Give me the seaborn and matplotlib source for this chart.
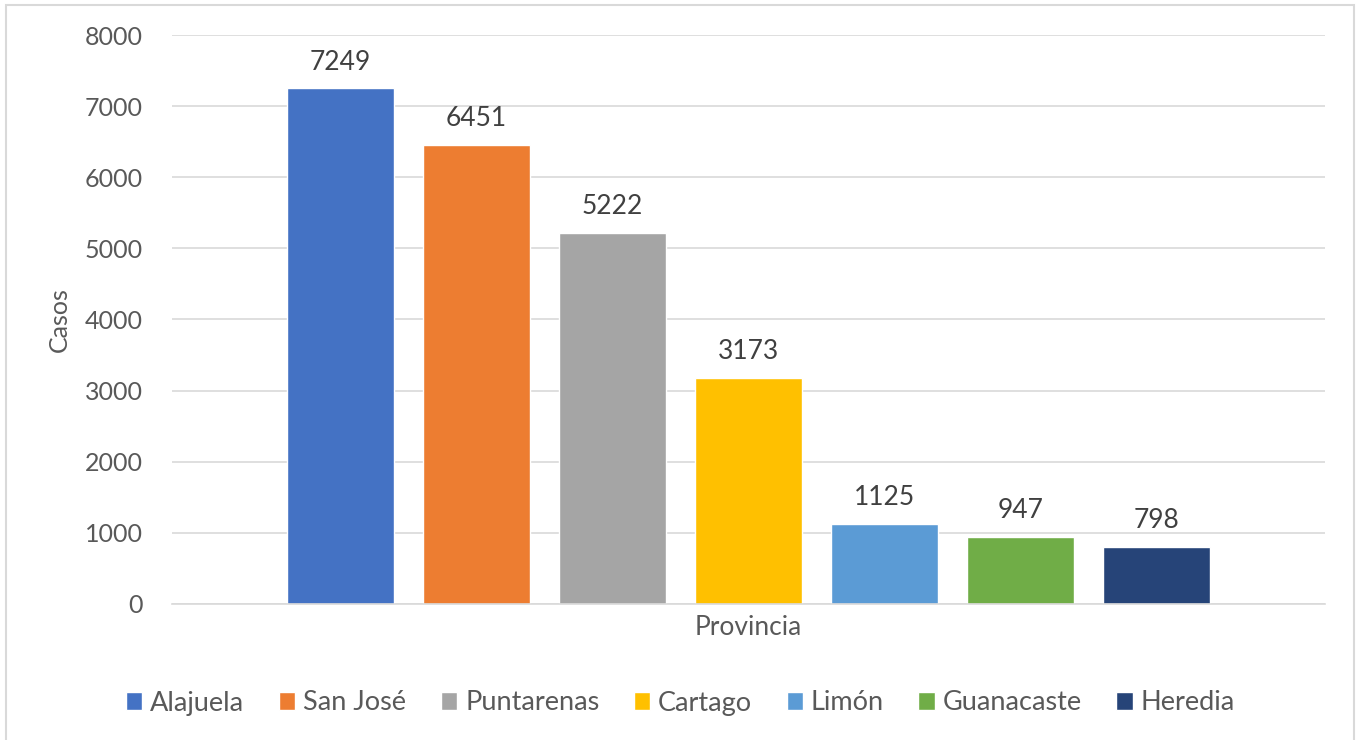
import pandas as pd
import seaborn as sns
import matplotlib.pyplot as plt
from matplotlib.patches import Rectangle

# Datos
provincias = ['Alajuela', 'San José', 'Puntarenas', 'Cartago', 'Limón', 'Guanacaste', 'Heredia']
casos = [7249, 6451, 5222, 3173, 1125, 947, 798]
colores = ['#4472C4', '#ED7D31', '#A5A5A5', '#FFC000', '#5B9BD5', '#70AD47', '#264478']
categoria = ['Provincia'] * len(provincias)
yticks = [0, 1000, 2000, 3000, 4000, 5000, 6000, 7000, 8000]

df = pd.DataFrame({'cat': categoria, 'prov': provincias, 'casos': casos})

sns.set_style('white')
plt.rcParams['font.family'] = ['Lato', 'DejaVu Sans']
texto = '#595959'

fig = plt.figure(figsize=(13.61, 7.40), dpi=100)
ax = fig.add_axes([0.1264, 0.1838, 0.8472, 0.7689])

sns.barplot(data=df, x='cat', y='casos', hue='prov', hue_order=provincias,
            palette=colores, width=0.826, gap=0.213, ax=ax, legend=True,
            saturation=1)

for cont in ax.containers:
    ax.bar_label(cont, fmt='%d', padding=10, fontsize=19, color='#404040')

ax.set_xlim(-0.5, 0.5)
ax.set_ylim(0, 8000)
ax.set_yticks(yticks)
ax.set_yticklabels([str(t) for t in yticks], fontsize=18, color=texto)
ax.tick_params(axis='y', length=0, pad=21)
ax.tick_params(axis='x', length=0, labelsize=19, labelcolor=texto, pad=8)
ax.yaxis.grid(True, color='#D9D9D9', linewidth=1.2)
ax.set_axisbelow(True)
for s in ['top', 'right', 'left']:
    ax.spines[s].set_visible(False)
ax.spines['bottom'].set_color('#D9D9D9')
ax.spines['bottom'].set_linewidth(1.2)
ax.set_xlabel('')
ax.set_ylabel('Casos', fontsize=18, color=texto)
ax.yaxis.set_label_coords(-0.0875, 0.5)

leg = ax.legend(loc='center', bbox_to_anchor=(0.5, 0.05), bbox_transform=fig.transFigure,
                ncol=7, frameon=False, fontsize=19.5, handlelength=0.6, handleheight=0.6,
                handletextpad=0.3, columnspacing=1.27)
for t in leg.get_texts():
    t.set_color(texto)

fig.patches.append(Rectangle((6 / 1361, -0.05), 1348 / 1361, 1.05 - 5 / 740,
                             transform=fig.transFigure, fill=False,
                             edgecolor='#D9D9D9', linewidth=1.5))

fig.savefig('out.png', dpi=100)
